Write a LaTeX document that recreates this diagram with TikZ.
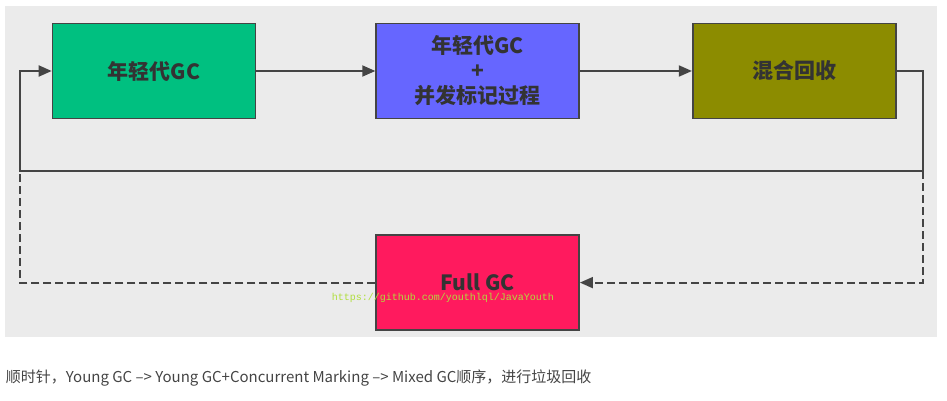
\documentclass[tikz,border=0pt]{standalone}
\usepackage{fontspec}
\newfontfamily\cjk{Noto Sans CJK SC}
\newfontfamily\wmono{Liberation Mono}
\usepackage{tikz}
\usetikzlibrary{arrows.meta,positioning}

\definecolor{panel}{RGB}{235,235,235}
\definecolor{edgegray}{RGB}{68,68,68}
\definecolor{txtgray}{RGB}{51,51,51}
\definecolor{younggreen}{RGB}{0,192,128}
\definecolor{markblue}{RGB}{102,102,255}
\definecolor{mixedolive}{RGB}{140,140,0}
\definecolor{fullpink}{RGB}{255,26,94}
\definecolor{wmgreen}{RGB}{176,222,60}

\begin{document}
\begin{tikzpicture}[x=1pt,y=-1pt,>={Triangle[length=13pt,width=11pt]},line width=1.8pt,draw=edgegray,
  node distance=115pt]
  \tikzset{gcbox/.style={draw=edgegray,line width=1.6pt,minimum width=203pt,minimum height=95pt,
      inner sep=0pt,align=center,text=txtgray,font=\cjk\bfseries\fontsize{21}{25}\selectfont}}
  \useasboundingbox (0,0) rectangle (947,401);
  \fill[panel] (5,6) rectangle (937,337);
	\node[gcbox, fill=younggreen] (young) at (154,71) {年轻代GC};
	\node[gcbox, fill=markblue, right=119pt of young] (mark) {年轻代GC\\+\\并发标记过程};
	\node[gcbox, fill=mixedolive, right=112pt of mark] (mixed) {混合回收};
	\node[gcbox, fill=fullpink, below=115pt of mark] (full) {Full GC};
	\coordinate (rt) at (923,171);
	\coordinate (lt) at (20,171);

	\draw[->, edgegray] (young) -- (mark);
	\draw[->, edgegray] (mark) -- (mixed);
	\draw[->, edgegray] (mixed.east) -| (rt) -- (lt) |- (young.west);
	\draw[->, edgegray, dash pattern=on 8pt off 4pt] (rt) |- (full.east);
	\draw[edgegray, dash pattern=on 8pt off 4pt] (full.west) -| (lt);

	\node[text=wmgreen, font=\wmono\fontsize{10}{12}\selectfont, inner sep=0pt] (wm) at (443,298) {https://github.com/youthlql/JavaYouth};
	\node[anchor=west, inner sep=0pt, text=edgegray, font=\cjk\fontsize{15}{18}\selectfont] (caption) at (5,378)
	  {顺时针，Young GC –> Young GC+Concurrent Marking –> Mixed GC顺序，进行垃圾回收};
\end{tikzpicture}
\end{document}
